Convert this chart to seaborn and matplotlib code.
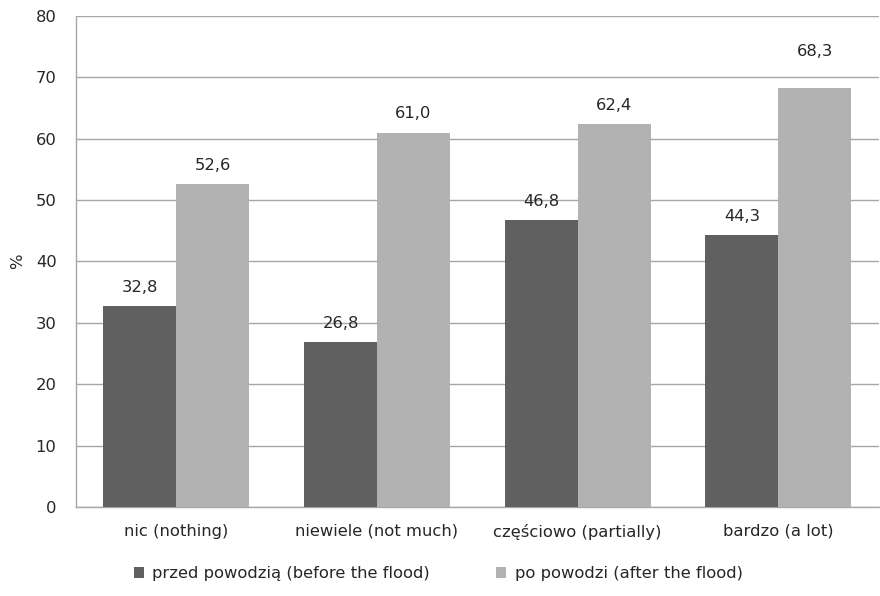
import matplotlib
matplotlib.use("Agg")
import matplotlib.pyplot as plt
import seaborn as sns
import pandas as pd
from matplotlib.patches import Patch

categories = ["nic (nothing)", "niewiele (not much)", "częściowo (partially)", "bardzo (a lot)"]
series_names = ["przed powodzią (before the flood)", "po powodzi (after the flood)"]
before_flood = [32.8, 26.8, 46.8, 44.3]
after_flood = [52.6, 61.0, 62.4, 68.3]
y_ticks = [0, 10, 20, 30, 40, 50, 60, 70, 80]
colors = ["#606060", "#b2b2b2"]

df = pd.DataFrame({
    "category": categories * 2,
    "series": [series_names[0]] * 4 + [series_names[1]] * 4,
    "value": before_flood + after_flood,
})

sns.set_theme(style="white")
plt.rcParams["font.family"] = ["DejaVu Sans"]

FS = 11.8
TXT = "#262626"

fig = plt.figure(figsize=(8.8, 5.96), dpi=100)
ax = fig.add_axes([0.0864, 0.1493, 0.912, 0.824])

sns.barplot(data=df, x="category", y="value", hue="series", hue_order=series_names,
            order=categories, palette=colors, width=0.727, saturation=1,
            edgecolor="none", ax=ax, legend=False, zorder=3)

ax.set_ylim(0, 80)
ax.set_yticks(y_ticks)
ax.set_yticklabels([str(t) for t in y_ticks], fontsize=FS, color=TXT)
ax.tick_params(axis="x", labelsize=FS, colors=TXT, length=0, pad=12)
ax.tick_params(axis="y", length=0, pad=14)
ax.yaxis.grid(True, color="#a6a6a6", linewidth=1.0, zorder=0)
ax.set_axisbelow(True)
ax.set_xlabel("")
ax.set_ylabel("%", fontsize=FS, color=TXT)
ax.yaxis.set_label_coords(-0.064, 0.5)
for side in ["top", "right"]:
    ax.spines[side].set_visible(False)
for side in ["left", "bottom"]:
    ax.spines[side].set_color("#a6a6a6")
    ax.spines[side].set_linewidth(1.0)

for container in ax.containers:
    labels = [f"{v:.1f}".replace(".", ",") for v in container.datavalues]
    texts = ax.bar_label(container, labels=labels, padding=8, fontsize=FS, color=TXT)
    # the label over the tallest bar sits higher, clear of the 70 gridline
    for txt, v in zip(texts, container.datavalues):
        if v > 65:
            txt.xyann = (0, 21)

handles = [Patch(facecolor=c, edgecolor="none") for c in colors]
fig.legend(handles, series_names, loc="lower left", bbox_to_anchor=(0.135, 0.0),
           ncol=2, frameon=False, fontsize=FS, handlelength=0.65, handleheight=0.65,
           handletextpad=0.5, columnspacing=4.0, labelcolor=TXT)

fig.savefig("out.png", dpi=100)
